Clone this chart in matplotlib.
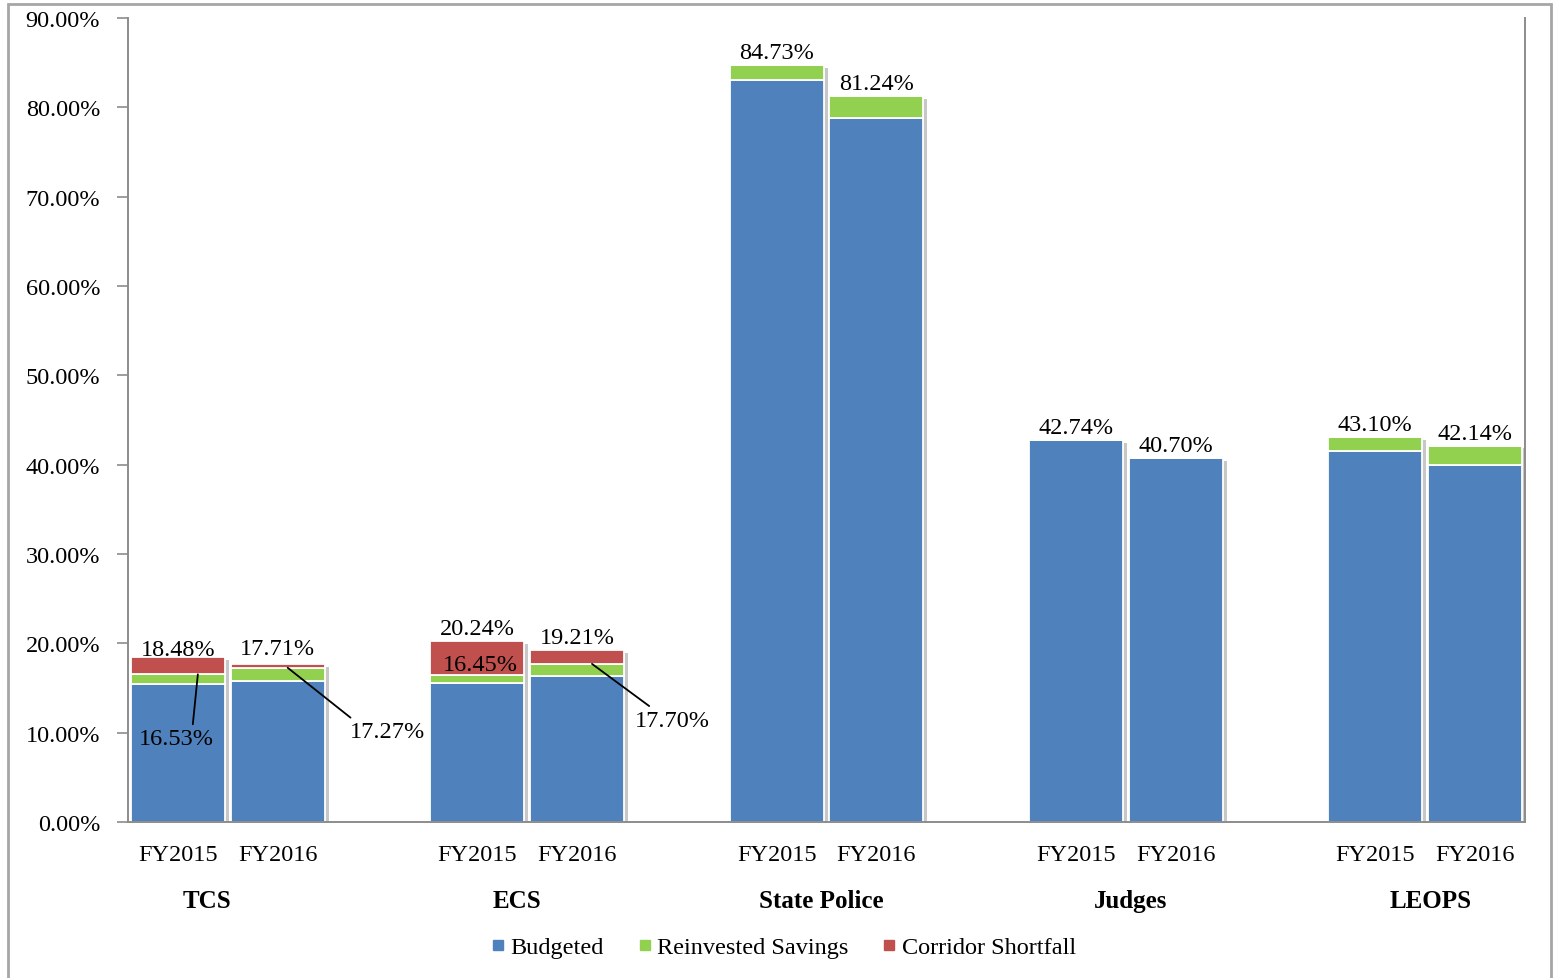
import matplotlib
matplotlib.use("Agg")
import matplotlib.pyplot as plt
import matplotlib.patheffects as pe
from matplotlib.patches import Rectangle
from matplotlib.lines import Line2D

# ---- data ----
groups = ["TCS", "ECS", "State Police", "Judges", "LEOPS"]
years = ["FY2015", "FY2016"]
budgeted = [15.40, 15.80, 15.60, 16.35, 83.10, 78.85, 42.74, 40.70, 41.57, 39.94]
reinvested = [1.13, 1.47, 0.85, 1.35, 1.63, 2.39, 0.00, 0.00, 1.53, 2.20]
shortfall = [1.95, 0.44, 3.79, 1.51, 0.00, 0.00, 0.00, 0.00, 0.00, 0.00]
total_labels = [18.48, 17.71, 20.24, 19.21, 84.73, 81.24, 42.74, 40.70, 43.10, 42.14]
sub_labels = [16.53, 17.27, 16.45, 17.70]   # budgeted + reinvested for TCS/ECS
y_ticks = [0, 10, 20, 30, 40, 50, 60, 70, 80, 90]

C_BUD = "#4F81BD"
C_REI = "#92D050"
C_COR = "#C0504D"
GRAY = "#8C8C8C"

plt.rcParams["font.family"] = ["Liberation Serif", "DejaVu Serif"]
FS = 17.5

fig = plt.figure(figsize=(15.54, 9.79), dpi=100)
ax = fig.add_axes([128 / 1554, 1 - 823 / 979, (1525 - 128) / 1554, (823 - 19) / 979])

# outer frame
fig.patches.append(Rectangle((8 / 1554, -0.05), (1551 - 8) / 1554, 1 - 5 / 979 + 0.05,
                             transform=fig.transFigure, fill=False,
                             edgecolor="#A6A6A6", linewidth=2.0, zorder=0))

xs = [g * 3 + j for g in range(len(groups)) for j in range(len(years))]
w = 0.94

tot = [b + r + s for b, r, s in zip(budgeted, reinvested, shortfall)]
# shadow bars
ax.bar(xs, tot, width=w, color="white", edgecolor="none", zorder=1,
       path_effects=[pe.SimplePatchShadow(offset=(3, -2), shadow_rgbFace="#9a9a9a", alpha=0.55),
                     pe.Normal()])
ax.bar(xs, budgeted, width=w, color=C_BUD, edgecolor="white", linewidth=1.3, zorder=2)
b2 = [b + r for b, r in zip(budgeted, reinvested)]
ax.bar(xs, reinvested, width=w, bottom=budgeted, color=C_REI, edgecolor="white",
       linewidth=1.3, zorder=2)
ax.bar(xs, shortfall, width=w, bottom=b2, color=C_COR, edgecolor="white",
       linewidth=1.3, zorder=2)

# total labels
for i, (x, t, lab) in enumerate(zip(xs, tot, total_labels)):
    dy = 9
    if i == 0:
        dy = 5
    elif i == 1:
        dy = 11
    ax.annotate(f"{lab:.2f}%", (x, t), xytext=(0, dy), textcoords="offset points",
                ha="center", va="center", fontsize=FS, zorder=5)

# sub labels (TCS / ECS)
ax.annotate(f"{sub_labels[0]:.2f}%", xy=(xs[0] + 0.2, sub_labels[0]), xytext=(xs[0] - 0.02, 9.3),
            ha="center", va="center", fontsize=FS, zorder=5,
            arrowprops=dict(arrowstyle="-", color="black", lw=1.3, shrinkA=1, shrinkB=0,
                            relpos=(0.72, 1.0)))
ax.annotate(f"{sub_labels[1]:.2f}%", xy=(xs[1] + 0.1, sub_labels[1]), xytext=(2.10, 10.1),
            ha="center", va="center", fontsize=FS, zorder=5,
            arrowprops=dict(arrowstyle="-", color="black", lw=1.3, shrinkA=1, shrinkB=0,
                            relpos=(0.07, 1.0)))
ax.annotate(f"{sub_labels[2]:.2f}%", xy=(xs[2], sub_labels[2]), xytext=(3.03, 17.6),
            ha="center", va="center", fontsize=FS, zorder=5)
ax.annotate(f"{sub_labels[3]:.2f}%", xy=(xs[3] + 0.15, sub_labels[3]), xytext=(4.96, 11.4),
            ha="center", va="center", fontsize=FS, zorder=5,
            arrowprops=dict(arrowstyle="-", color="black", lw=1.3, shrinkA=1, shrinkB=0,
                            relpos=(0.25, 1.0)))

# axes styling
ax.set_xlim(-0.5, 13.5)
ax.set_ylim(0, 90)
ax.set_yticks(y_ticks)
ax.set_yticklabels([f"{v:.2f}%" for v in y_ticks], fontsize=FS)
ax.tick_params(axis="y", direction="out", length=8, width=1.2, color=GRAY, pad=12)
ax.set_xticks(xs)
ax.set_xticklabels([years[j] for g in range(len(groups)) for j in range(len(years))], fontsize=FS)
ax.tick_params(axis="x", length=0, pad=16)
for s in ["left", "bottom", "right"]:
    ax.spines[s].set_color(GRAY)
    ax.spines[s].set_linewidth(1.4)
ax.spines["top"].set_visible(False)

group_x = [0.29, 3.40, 6.45, 9.55, 12.55]
for gx, name in zip(group_x, groups):
    ax.text(gx, -0.098, name, transform=ax.get_xaxis_transform(), ha="center", va="center",
            fontsize=FS + 0.5, fontweight="bold")

handles = [Line2D([], [], marker="s", linestyle="none", markersize=7, color=c, markeredgecolor=c)
           for c in (C_BUD, C_REI, C_COR)]
fig.legend(handles, ["Budgeted", "Reinvested Savings", "Corridor Shortfall"],
           loc="center", bbox_to_anchor=(783 / 1554, 1 - 948 / 979), ncol=3, frameon=False,
           fontsize=FS, handlelength=0.6, handletextpad=0.2, columnspacing=1.4)

fig.savefig("out.png", dpi=100)
